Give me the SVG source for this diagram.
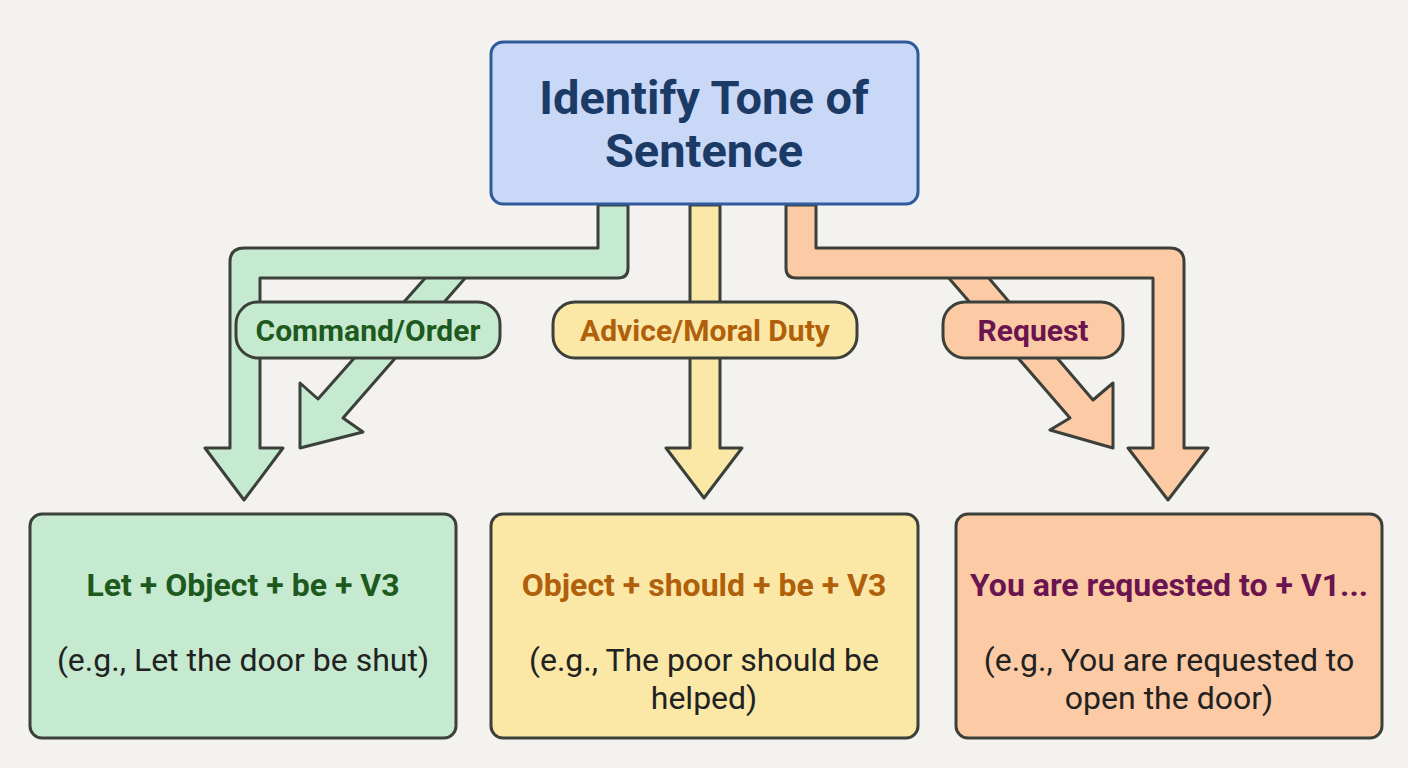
<svg xmlns="http://www.w3.org/2000/svg" width="1408" height="768" viewBox="0 0 1408 768">
<style>
.c{stroke:#3b403a;stroke-width:3;stroke-linejoin:round}
.g{fill:#c6ead0}.y{fill:#fbe7a6}.o{fill:#fccaa4}
.t{font-family:Roboto,"Liberation Sans",sans-serif;text-anchor:middle}
.b{font-weight:bold}
</style>
<rect width="1408" height="768" fill="#f4f2ee"/>
<g id="connectors">
<polygon class="c g" points="427,276 467,276 343,418 363,432 300,448 300,383 318,399"/>
<path class="c g" d="M598,205 L628,205 L628,268 Q628,278 618,278 L260,278 L260,448 L283,448 L244,500 L205,448 L230,448 L230,262 Q230,248 244,248 L598,248 Z"/>
<polygon class="c y" points="690,205 720,205 720,448 742,448 704,498 666,448 690,448"/>
<polygon class="c o" points="947,276 987,276 1093,400 1113,383 1113,448 1050,430 1070,418"/>
<path class="c o" d="M816,205 L786,205 L786,268 Q786,278 796,278 L1153,278 L1153,448 L1128,448 L1168,500 L1208,448 L1184,448 L1184,262 Q1184,248 1170,248 L816,248 Z"/>
</g>
<g id="top"><rect x="491" y="42" width="427" height="162" rx="12" fill="#c9d8f7" stroke="#2f5a9c" stroke-width="3"/>
<text class="t b" x="704" y="114" font-size="47" fill="#1b3a66">Identify Tone of</text>
<text class="t b" x="704" y="167" font-size="47" fill="#1b3a66">Sentence</text></g>
<g id="lbl1"><rect class="c g" x="236" y="302" width="264" height="56" rx="22"/><text class="t b" x="368" y="341" font-size="30" fill="#1e5a1e">Command/Order</text></g>
<g id="lbl2"><rect class="c y" x="553" y="302" width="304" height="56" rx="22"/><text class="t b" x="705" y="341" font-size="30" fill="#b0600a">Advice/Moral Duty</text></g>
<g id="lbl3"><rect class="c o" x="943" y="302" width="180" height="56" rx="22"/><text class="t b" x="1033" y="341" font-size="30" fill="#6a1450">Request</text></g>
<g id="box1"><rect class="c g" x="30" y="514" width="426" height="224" rx="12"/>
<text class="t b" x="243" y="596" font-size="32" fill="#1e5a1e">Let + Object + be + V3</text>
<text class="t" x="243" y="671" font-size="32" fill="#222">(e.g., Let the door be shut)</text></g>
<g id="box2"><rect class="c y" x="491" y="514" width="427" height="224" rx="12"/>
<text class="t b" x="704" y="596" font-size="32" fill="#b0600a">Object + should + be + V3</text>
<text class="t" x="704" y="671" font-size="32" fill="#222">(e.g., The poor should be</text>
<text class="t" x="704" y="709" font-size="32" fill="#222">helped)</text></g>
<g id="box3"><rect class="c o" x="956" y="514" width="426" height="224" rx="12"/>
<text class="t b" x="1169" y="596" font-size="32" fill="#6a1450">You are requested to + V1...</text>
<text class="t" x="1169" y="671" font-size="32" fill="#222">(e.g., You are requested to</text>
<text class="t" x="1169" y="709" font-size="32" fill="#222">open the door)</text></g>
</svg>
